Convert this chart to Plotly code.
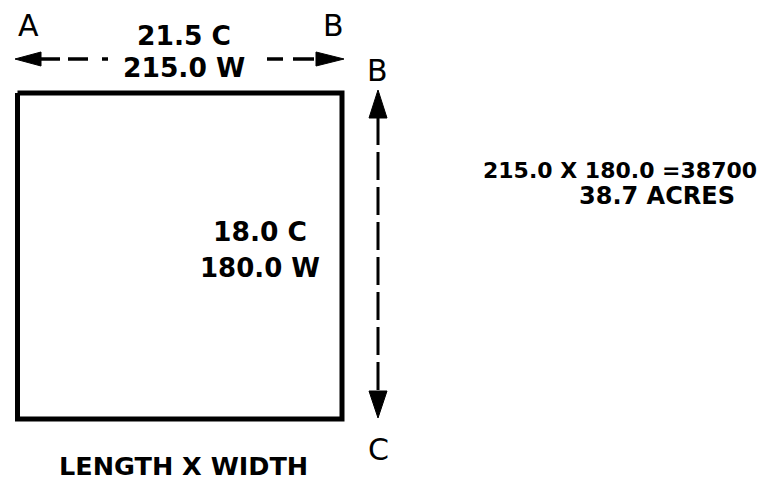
import plotly.graph_objects as go

# Survey values (chains C and "W" units)
length_chains = 21.5
length_units = 215.0
width_chains = 18.0
width_units = 180.0
area_units = 38700
area_acres = 38.7
corner_labels = ["A", "B", "B", "C"]
caption = "LENGTH X WIDTH"

BOLD = "DejaVu Sans, sans-serif"
REG = "DejaVu Sans, sans-serif"
fig = go.Figure()

# rectangle (parcel)
box_x = [17.5, 342, 342, 17.5, 17.5]
box_y = [93, 93, 419, 419, 93]
fig.add_trace(go.Scatter(x=box_x, y=box_y, mode="lines",
                         line=dict(color="black", width=5), hoverinfo="skip"))

# horizontal dashed arrow (length)
hx = [40, 60, None, 68, 88, None, 102, 108, None, 267, 283, None, 293, 314]
hy = [59, 59, None, 59, 59, None, 59, 59, None, 59, 59, None, 59, 59]
fig.add_trace(go.Scatter(x=hx, y=hy, mode="lines",
                         line=dict(color="black", width=3.5), hoverinfo="skip"))
# arrowheads
for xs, ys in [([15, 41, 41, 15], [59, 52, 66, 59]),
               ([344, 316, 316, 344], [59, 52, 66, 59]),
               ([378, 369, 387, 378], [90, 118, 118, 90]),
               ([378, 369, 387, 378], [418, 391, 391, 418])]:
    fig.add_trace(go.Scatter(x=xs, y=ys, mode="lines", fill="toself",
                             fillcolor="black", line=dict(color="black", width=1),
                             hoverinfo="skip"))

# vertical dashed arrow (width)
fig.add_trace(go.Scatter(x=[378, 378], y=[117, 393], mode="lines",
                         line=dict(color="black", width=3, dash="28px,7px"),
                         hoverinfo="skip"))

def txt(x, y, s, size, bold=True, anchor="center"):
    fig.add_annotation(x=x, y=y, text=f"<b>{s}</b>" if bold else s,
                       showarrow=False, xanchor=anchor, yanchor="middle",
                       font=dict(family=BOLD if bold else REG, size=size, color="black"))

# corner letters
txt(28, 25, corner_labels[0], 30, bold=False)
txt(333, 25, corner_labels[1], 30, bold=False)
txt(377, 70, corner_labels[2], 30, bold=False)
txt(378, 449, corner_labels[3], 30, bold=False)

# measurements
txt(184, 35, f"{length_chains:.1f} C", 26.5)
txt(184, 67, f"{length_units:.1f} W", 26.5)
txt(260, 231, f"{width_chains:.1f} C", 26.5)
txt(260, 268, f"{width_units:.1f} W", 26)

# area computation
txt(481, 170, f"{length_units:.1f} X {width_units:.1f} ={area_units}", 22, anchor="left")
txt(657, 196, f"{area_acres:.1f} ACRES", 24)

txt(183, 466, caption, 25.5)

# page body has an 8px margin: shift the coordinate system so data units = window pixels
fig.update_layout(
    width=761, height=472, margin=dict(l=0, r=0, t=0, b=0),
    paper_bgcolor="white", plot_bgcolor="white", showlegend=False,
    xaxis=dict(range=[8, 769], visible=False, fixedrange=True),
    yaxis=dict(range=[480, 8], visible=False, fixedrange=True),
)
fig.write_html("out.html")
